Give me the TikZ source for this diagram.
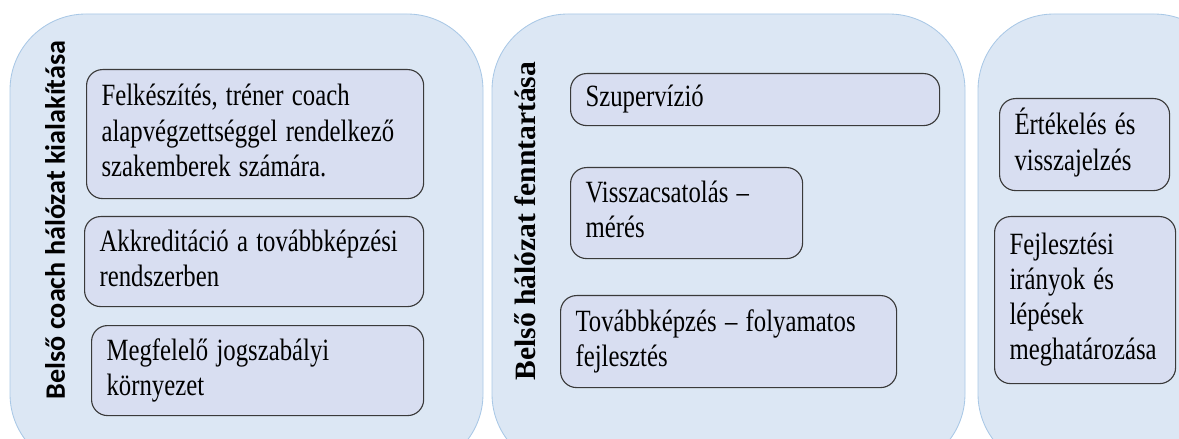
\documentclass[tikz,border=0pt]{standalone}
\usepackage{fontspec}
\setmainfont{Liberation Serif}
\newfontfamily\labelsans{Carlito}
\usepackage{graphicx}
\usepackage{xcolor}
\definecolor{panelFill}{HTML}{DCE7F4}
\definecolor{panelLine}{HTML}{A9C8E6}
\definecolor{boxFill}{HTML}{D8DEF1}
\definecolor{boxLine}{HTML}{3A3A3A}
\usetikzlibrary{positioning}
% narrow, tall serif lines as in the scanned original
\newcommand\tallrows[1]{\scalebox{0.8}[1]{\begin{tabular}{@{}l@{}}#1\end{tabular}}}

\begin{document}
\begin{tikzpicture}[x=0.025cm, y=-0.025cm,
	every node/.style={inner sep=0pt},
	panel/.style={fill=panelFill, draw=panelLine, line width=0.6pt, rounded corners=1.9cm},
	item/.style={draw=boxLine, fill=boxFill, line width=0.8pt, rounded corners=0.4cm,
		anchor=north west, align=left, inner xsep=0.375cm,
		font=\fontsize{22}{25}\selectfont},
	side/.style={rotate=90, font=\fontsize{21}{24}\selectfont\bfseries}]
	\useasboundingbox (0,0) rectangle (1179,439);
	\clip (0,0) rectangle (1179,439);
	% the three columns
	\draw[panel] (10,14) rectangle (483,470);
	\draw[panel] (492,14) rectangle (965,470);
	\draw[panel] (978,14) rectangle (1230,470);

	\node[side, font=\labelsans\fontsize{20}{24}\selectfont\bfseries] (build) at (55,220) {Belső coach hálózat kialakítása};
	\node[side] (keep) at (525,221) {Belső hálózat fenntartása};

	% first column
	\node[item, text width=7.675cm, minimum height=3.225cm] (prep) at (86,69)
		{\tallrows{Felkészítés, tréner coach\\alapvégzettséggel rendelkező\\szakemberek számára.}};
	\node[item, text width=7.725cm, minimum height=2.25cm] (accr) at (84,216)
		{\tallrows{Akkreditáció a továbbképzési\\rendszerben}};
	\node[item, text width=7.55cm, minimum height=2.25cm] (law) at (91,325)
		{\tallrows{Megfelelő jogszabályi\\környezet}};

	% second column
	\node[item, text width=8.475cm, minimum height=1.3cm] (superv) at (570,73) {\tallrows{Szupervízió}};
	\node[item, text width=5.05cm, minimum height=2.275cm] (feedb) at (570,167)
		{\tallrows{Visszacsatolás –\\mérés}};
	\node[item, text width=7.65cm, minimum height=2.3cm] (train) at (560,295)
		{\tallrows{Továbbképzés – folyamatos\\fejlesztés}};

	% third column
	\node[item, text width=3.5cm, minimum height=2.3cm] (eval) at (999,98)
		{\tallrows{Értékelés és\\visszajelzés}};
	\node[item, text width=3.775cm, minimum height=4.175cm] (dev) at (994,216)
		{\tallrows{Fejlesztési\\irányok és\\lépések\\meghatározása}};
\end{tikzpicture}
\end{document}
